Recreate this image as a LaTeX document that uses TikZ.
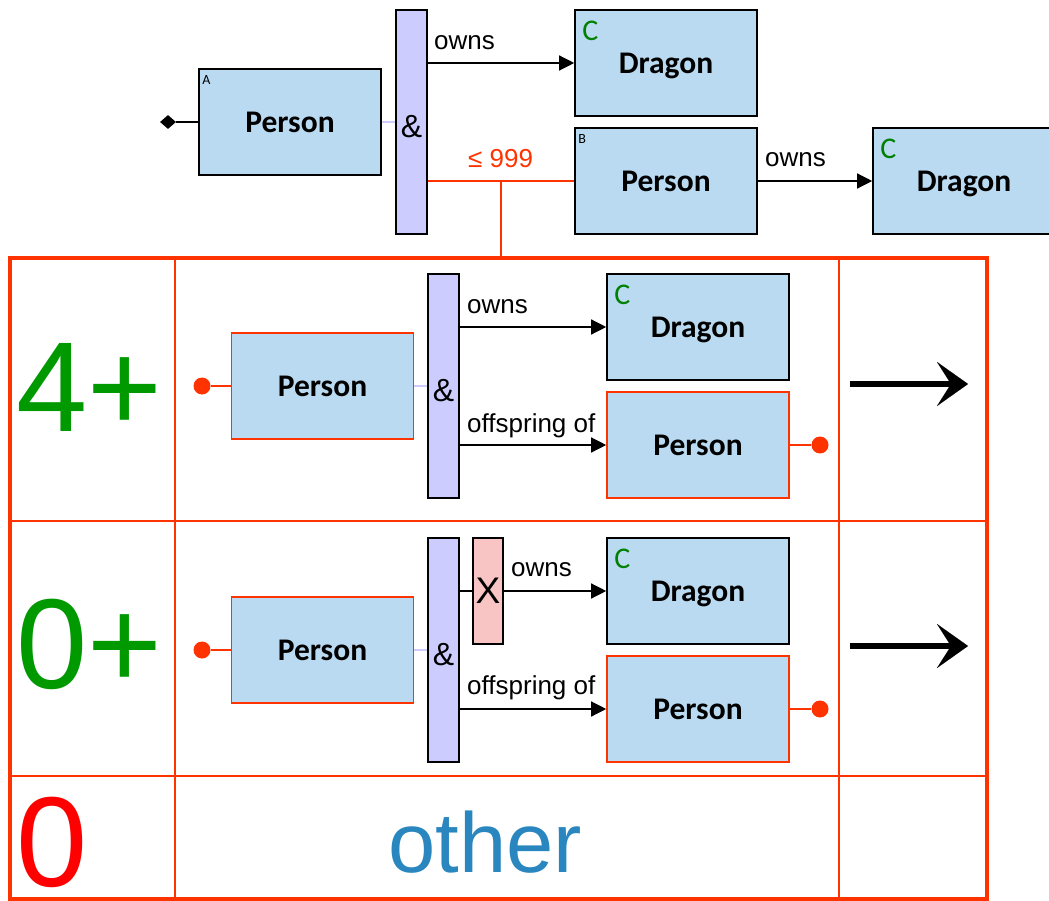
\documentclass[tikz,border=0pt]{standalone}
\usepackage{fontspec}
\setmainfont{Liberation Sans}
\newfontfamily\calfont{Carlito}
\usetikzlibrary{arrows.meta,shapes.geometric,calc}
\definecolor{boxblue}{RGB}{185,218,240}
\definecolor{barpurple}{RGB}{204,204,255}
\definecolor{xpink}{RGB}{248,196,196}
\definecolor{tred}{RGB}{255,51,0}
\definecolor{numgreen}{RGB}{0,153,0}
\definecolor{cgreen}{RGB}{0,128,0}
\definecolor{otherblue}{RGB}{41,134,191}
\definecolor{zerored}{RGB}{255,0,0}
\begin{document}
\begin{tikzpicture}[x=1pt,y=-1pt,
  box/.style={draw=black, line width=1.6pt, fill=boxblue, minimum width=182pt, minimum height=106pt, inner sep=0pt, text depth=0pt, font=\calfont\bfseries\fontsize{31.5}{31.5}\selectfont},
  rbox/.style={box, draw=tred},
  andbar/.style={draw=black, line width=1.6pt, fill=barpurple, minimum width=31pt, minimum height=224pt, inner sep=0pt, text height=31pt, text depth=0pt, font=\fontsize{32}{32}\selectfont},
  xbar/.style={draw=black, line width=1.6pt, fill=xpink, minimum width=30pt, minimum height=106pt, inner sep=0pt, font=\fontsize{37}{37}\selectfont},
  ctag/.style={label={[font=\calfont\fontsize{30}{30}\selectfont, text=cgreen, anchor=base west, inner sep=0pt, xshift=8pt, yshift=-31pt]north west:C}},
  abtag/.style={label={[font=\calfont\fontsize{14}{14}\selectfont, anchor=base west, inner sep=0pt, xshift=4pt, yshift=-16pt]north west:#1}},
  lbl/.style={font=\fontsize{26}{26}\selectfont, anchor=base west, inner sep=0pt},
  numtxt/.style={font=\fontsize{128}{128}\selectfont, anchor=base west, inner sep=0pt},
  arr/.style={draw=black, line width=1.3pt, -{Triangle[length=15pt,width=15pt]}},
  bline/.style={draw=black, line width=1.3pt},
  rline/.style={draw=tred, line width=1.5pt},
  pline/.style={draw=barpurple, line width=1.5pt},
  dot/.style={circle, fill=tred, minimum size=17pt, inner sep=0pt},
  bigarr/.style={draw=black, line width=6.5pt, -{Stealth[length=31pt,width=44pt,inset=14pt,line width=0.01pt]}}
]
\useasboundingbox (0,0) rectangle (1049,901);
\clip (0,0) rectangle (1049,901);

% ---------- top pattern ----------
\node[box, abtag=A] (pA) at (290,122) {Person};
\node[andbar] (and0) at (411.5,122) {\&};
\node[box, ctag] (dT) at (666,63) {Dragon};
\node[box, abtag=B] (pB) at (666,181) {Person};
\node[box, ctag] (dR) at (964,181) {Dragon};
\node[diamond, fill=black, minimum width=16pt, minimum height=14pt, inner sep=0pt] (dia) at (168,122) {};
\draw[bline] (dia.east) -- (pA.west);
\draw[pline] (pA.east) -- (and0.west);
\draw[arr] (and0.east |- dT.west) -- (dT.west);
\node[lbl] (l1) at (434,50) {owns};
\draw[rline] (and0.east |- pB.west) -- (pB.west);
\node[lbl, text=tred] (l2) at (468,168) {≤ 999};
\coordinate (jn) at (501,181);
\coordinate (tt) at (501,258);
\draw[rline] (jn) -- (tt);
\draw[arr] (pB.east) -- (dR.west);
\node[lbl] (l3) at (765,167) {owns};

% ---------- table ----------
\draw[tred, line width=1.5pt] (10,521) -- (987,521);
\draw[tred, line width=1.5pt] (10,776) -- (987,776);
\draw[tred, line width=1.5pt] (175,258) -- (175,899);
\draw[tred, line width=1.5pt] (839,258) -- (839,899);
\draw[tred, line width=4.5pt] (10,258) rectangle (987,899);

% row 1
\node[numtxt, text=numgreen] (n1) at (16,431) {4+};
\node[dot] (d1) at (202,386) {};
\node[rbox] (p1) at (322.5,386) {Person};
\draw[rline] (d1) -- (p1.west);
\node[andbar] (a1) at (443.5,386) {\&};
\draw[pline] (p1.east) -- (a1.west);
\node[box, ctag] (g1) at (698,327) {Dragon};
\node[rbox] (q1) at (698,445) {Person};
\draw[arr] (a1.east |- g1.west) -- (g1.west);
\draw[arr] (a1.east |- q1.west) -- (q1.west);
\node[lbl] (l4) at (467,313) {owns};
\node[lbl] (l5) at (467,432) {offspring of};
\node[dot] (e1) at (820,445) {};
\draw[rline] (q1.east) -- (e1);
\coordinate (r1s) at (850,384);
\coordinate (r1e) at (968,384);
\draw[bigarr] (r1s) -- (r1e);

% row 2
\node[numtxt, text=numgreen] (n2) at (16,688) {0+};
\node[dot] (d2) at (202,650) {};
\node[rbox] (p2) at (322.5,650) {Person};
\draw[rline] (d2) -- (p2.west);
\node[andbar] (a2) at (443.5,650) {\&};
\draw[pline] (p2.east) -- (a2.west);
\node[xbar] (x2) at (488,591) {X};
\node[box, ctag] (g2) at (698,591) {Dragon};
\node[rbox] (q2) at (698,709) {Person};
\draw[bline] (a2.east |- x2.west) -- (x2.west);
\draw[arr] (x2.east) -- (g2.west);
\draw[arr] (a2.east |- q2.west) -- (q2.west);
\node[lbl] (l6) at (511,576) {owns};
\node[lbl] (l7) at (467,694) {offspring of};
\node[dot] (e2) at (820,709) {};
\draw[rline] (q2.east) -- (e2);
\coordinate (r2s) at (850,646);
\coordinate (r2e) at (968,646);
\draw[bigarr] (r2s) -- (r2e);

% row 3
\node[numtxt, text=zerored] (n3) at (16,886) {0};
\node[font=\fontsize{85}{85}\selectfont, text=otherblue, anchor=base, inner sep=0pt] (oth) at (485,872) {other};
\end{tikzpicture}
\end{document}
